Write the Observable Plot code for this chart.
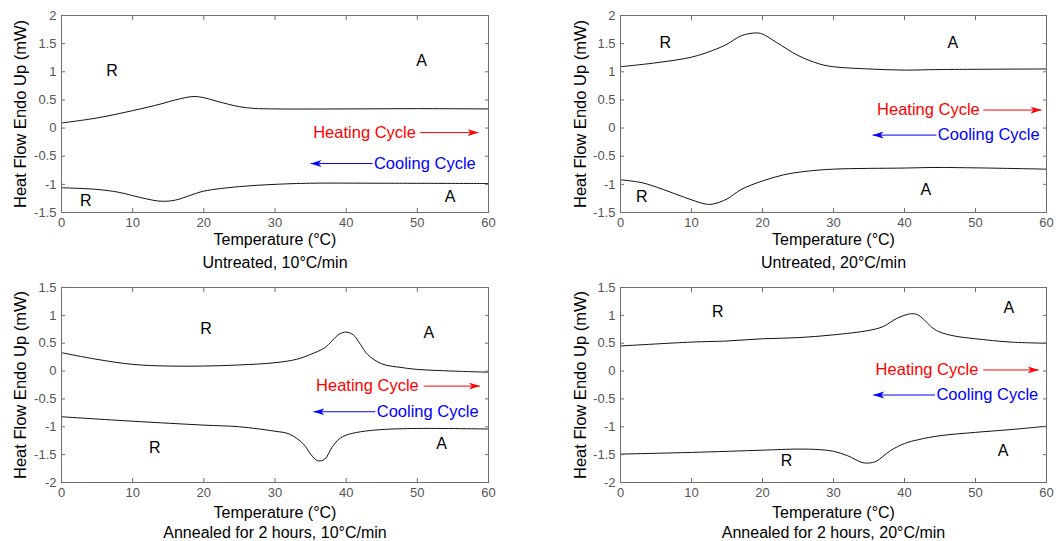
<!DOCTYPE html>
<html>
<head>
<meta charset="utf-8">
<script src="https://cdn.jsdelivr.net/npm/d3@7"></script>
<script src="https://cdn.jsdelivr.net/npm/@observablehq/plot@0.6"></script>
<style>
  html, body { margin: 0; padding: 0; background: #fff; }
  #wrap { position: relative; width: 1056px; height: 541px; overflow: hidden; }
  #wrap > svg { position: absolute; }
</style>
</head>
<body>
<div id="wrap"></div>
<script>
// ---------- Data ----------
const xTicks = [0, 10, 20, 30, 40, 50, 60];
const yTicksTop = [-1.5, -1, -0.5, 0, 0.5, 1, 1.5, 2];
const yTicksBottom = [-2, -1.5, -1, -0.5, 0, 0.5, 1, 1.5];

const xLabel = "Temperature (°C)";
const yLabel = "Heat Flow Endo Up (mW)";
const subtitles = ["Untreated, 10°C/min", "Untreated, 20°C/min", "Annealed for 2 hours, 10°C/min", "Annealed for 2 hours, 20°C/min"];
const heatingLabel = "Heating Cycle";
const coolingLabel = "Cooling Cycle";

// Panel 1: Untreated, 10°C/min
const u10HeatT = [0, 5, 10, 14, 16, 18.5, 20, 22, 25, 27, 30, 40, 50, 60];
const u10Heat  = [0.09, 0.18, 0.31, 0.43, 0.50, 0.56, 0.54, 0.47, 0.38, 0.35, 0.34, 0.34, 0.345, 0.34];
const u10CoolT = [0, 5, 8, 10, 12, 14, 16, 18, 20, 25, 30, 35, 45, 60];
const u10Cool  = [-1.06, -1.09, -1.14, -1.20, -1.26, -1.30, -1.28, -1.20, -1.12, -1.04, -1.00, -0.98, -0.98, -0.985];

// Panel 2: Untreated, 20°C/min
const u20HeatT = [0, 5, 10, 13, 15, 17, 19, 20, 22, 25, 28, 30, 35, 40, 45, 60];
const u20Heat  = [1.09, 1.16, 1.26, 1.38, 1.49, 1.64, 1.69, 1.67, 1.52, 1.29, 1.14, 1.09, 1.05, 1.03, 1.04, 1.05];
const u20CoolT = [0, 3, 6, 9, 12, 13, 15, 17, 20, 23, 26, 30, 40, 45, 60];
const u20Cool  = [-0.92, -0.97, -1.09, -1.23, -1.35, -1.35, -1.26, -1.09, -0.94, -0.83, -0.77, -0.73, -0.71, -0.70, -0.73];

// Panel 3: Annealed 2 h, 10°C/min
const a10HeatT = [0, 5, 10, 15, 20, 25, 30, 33, 35, 37, 39, 40, 41, 42, 43, 45, 48, 50, 55, 60];
const a10Heat  = [0.33, 0.21, 0.12, 0.09, 0.09, 0.11, 0.15, 0.21, 0.30, 0.42, 0.66, 0.70, 0.65, 0.48, 0.30, 0.13, 0.06, 0.03, 0.0, -0.02];
const a10CoolT = [0, 10, 20, 25, 30, 32, 34, 35, 36, 37, 38, 39, 40, 42, 45, 50, 60];
const a10Cool  = [-0.82, -0.90, -0.97, -1.0, -1.08, -1.13, -1.31, -1.49, -1.61, -1.58, -1.37, -1.22, -1.15, -1.09, -1.05, -1.03, -1.04];

// Panel 4: Annealed 2 h, 20°C/min
const a20HeatT = [0, 10, 15, 20, 25, 30, 35, 37, 39, 41, 42, 44, 45, 47, 50, 55, 60];
const a20Heat  = [0.45, 0.52, 0.54, 0.58, 0.60, 0.65, 0.73, 0.80, 0.95, 1.03, 1.0, 0.77, 0.70, 0.63, 0.58, 0.52, 0.50];
const a20CoolT = [0, 10, 20, 25, 28, 30, 32, 34, 35, 36, 38, 40, 42, 45, 50, 55, 60];
const a20Cool  = [-1.49, -1.46, -1.42, -1.40, -1.41, -1.44, -1.52, -1.64, -1.65, -1.62, -1.43, -1.30, -1.23, -1.16, -1.10, -1.05, -0.99];

// Phase labels (R / A) per panel: text, x, y
const phaseText = ["R", "A", "R", "A"];
const phaseX = [[7.1, 50.6, 3.4, 54.6], [6.3, 46.8, 3.0, 43.0], [20.3, 51.6, 13.1, 53.4], [13.7, 54.7, 23.4, 53.9]];
const phaseY = [[1.02, 1.2, -1.29, -1.23], [1.52, 1.51, -1.22, -1.10], [0.76, 0.69, -1.37, -1.31], [1.06, 1.13, -1.62, -1.43]];

// Heating annotation: text end x, arrow start x, arrow end x, y
const heatTextX = [49.8, 50.6, 50.2, 50.4];
const heatArrowX1 = [50.4, 51.1, 50.9, 51.1];
const heatArrowX2 = [58.6, 59.3, 58.8, 58.9];
const heatY = [-0.08, 0.32, -0.27, 0.02];
// Cooling annotation: text start x, arrow start x, arrow end x, y
const coolTextX = [43.9, 44.7, 44.3, 44.5];
const coolArrowX1 = [43.7, 44.5, 44.1, 44.3];
const coolArrowX2 = [35.0, 35.5, 35.4, 35.6];
const coolY = [-0.63, -0.125, -0.73, -0.43];

// ---------- Layout ----------
const panels = [
  {heatT: u10HeatT, heat: u10Heat, coolT: u10CoolT, cool: u10Cool, yTicks: yTicksTop, left: 0, top: 0, width: 528, height: 270, mt: 15, mb: 58, ml: 61, mr: 40, xlDy: 27, stDy: 50, ylDx: -41},
  {heatT: u20HeatT, heat: u20Heat, coolT: u20CoolT, cool: u20Cool, yTicks: yTicksTop, left: 528, top: 0, width: 528, height: 270, mt: 15, mb: 58, ml: 92, mr: 10, xlDy: 27, stDy: 50, ylDx: -40},
  {heatT: a10HeatT, heat: a10Heat, coolT: a10CoolT, cool: a10Cool, yTicks: yTicksBottom, left: 0, top: 270, width: 528, height: 271, mt: 17, mb: 59, ml: 61, mr: 40, xlDy: 30, stDy: 50, ylDx: -41},
  {heatT: a20HeatT, heat: a20Heat, coolT: a20CoolT, cool: a20Cool, yTicks: yTicksBottom, left: 528, top: 270, width: 528, height: 271, mt: 17, mb: 59, ml: 92, mr: 10, xlDy: 30, stDy: 50, ylDx: -40}
];

function headMarker(color) {
  const m = d3.create("svg:marker")
    .attr("viewBox", "-11 -4 11 8")
    .attr("markerWidth", 11)
    .attr("markerHeight", 8)
    .attr("markerUnits", "userSpaceOnUse")
    .attr("orient", "auto")
    .attr("fill", color)
    .attr("stroke", "none");
  m.append("path").attr("d", "M-11,-3.5L0,0L-11,3.5L-8,0Z");
  return m.node();
}

const fmt = d => String(d);
const FONT = "'Liberation Sans', Arial, Helvetica, sans-serif";
const wrap = document.getElementById("wrap");

panels.forEach((p, i) => {
  const heatData = p.heatT.map((t, k) => ({t, v: p.heat[k]}));
  const coolData = p.coolT.map((t, k) => ({t, v: p.cool[k]}));
  const phases = phaseText.map((s, k) => ({s, x: phaseX[i][k], y: phaseY[i][k]}));
  const heatAnn = [{tx: heatTextX[i], x1: heatArrowX1[i], x2: heatArrowX2[i], y: heatY[i]}];
  const coolAnn = [{tx: coolTextX[i], x1: coolArrowX1[i], x2: coolArrowX2[i], y: coolY[i]}];
  const yDomain = d3.extent(p.yTicks);

  const chart = Plot.plot({
    width: p.width,
    height: p.height,
    marginTop: p.mt,
    marginBottom: p.mb,
    marginLeft: p.ml,
    marginRight: p.mr,
    style: {fontFamily: FONT, background: "white", overflow: "visible"},
    x: {domain: [0, 60], axis: null},
    y: {domain: yDomain, axis: null},
    marks: [
      Plot.line(heatData, {x: "t", y: "v", stroke: "#111", strokeWidth: 1, curve: "catmull-rom"}),
      Plot.line(coolData, {x: "t", y: "v", stroke: "#111", strokeWidth: 1, curve: "catmull-rom"}),
      Plot.frame({stroke: "#6e6e6e"}),
      Plot.axisX(xTicks, {anchor: "bottom", tickSize: -4, tickPadding: 9, tickFormat: fmt, fontSize: 13, fill: "#555", stroke: "#6e6e6e", label: null}),
      Plot.axisX(xTicks, {anchor: "top", tickSize: -4, fill: "none", stroke: "#6e6e6e", label: null}),
      Plot.axisY(p.yTicks, {anchor: "left", tickSize: -4, tickPadding: 9, tickFormat: fmt, fontSize: 13, fill: "#555", stroke: "#6e6e6e", label: null}),
      Plot.axisY(p.yTicks, {anchor: "right", tickSize: -4, fill: "none", stroke: "#6e6e6e", label: null}),
      Plot.text([xLabel], {text: d => d, frameAnchor: "bottom", lineAnchor: "middle", textAnchor: "middle", dy: p.xlDy, fontSize: 16, fill: "#000"}),
      Plot.text([subtitles[i]], {text: d => d, frameAnchor: "bottom", lineAnchor: "middle", textAnchor: "middle", dy: p.stDy, fontSize: 16, fill: "#000"}),
      Plot.text([yLabel], {text: d => d, frameAnchor: "left", lineAnchor: "middle", textAnchor: "middle", rotate: -90, dx: p.ylDx, fontSize: 16.5, fill: "#000"}),
      Plot.text(phases, {x: "x", y: "y", text: "s", fontSize: 16, fill: "#000"}),
      Plot.link(heatAnn, {x1: "x1", x2: "x2", y1: "y", y2: "y", stroke: "#ff0000", strokeWidth: 1, markerEnd: headMarker}),
      Plot.link(coolAnn, {x1: "x1", x2: "x2", y1: "y", y2: "y", stroke: "#0000ff", strokeWidth: 1, markerEnd: headMarker}),
      Plot.text(heatAnn, {x: "tx", y: "y", text: () => heatingLabel, textAnchor: "end", fontSize: 16.5, fill: "#ff0000"}),
      Plot.text(coolAnn, {x: "tx", y: "y", text: () => coolingLabel, textAnchor: "start", fontSize: 16.5, fill: "#0000ff"})
    ]
  });
  chart.style.left = p.left + "px";
  chart.style.top = p.top + "px";
  wrap.appendChild(chart);
});
</script>
</body>
</html>
